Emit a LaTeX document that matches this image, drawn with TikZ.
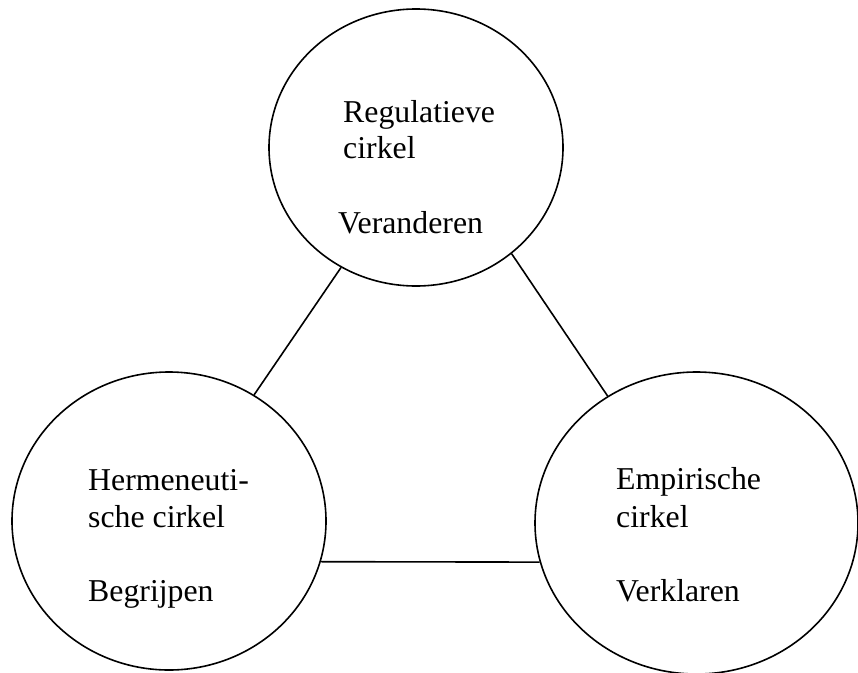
\documentclass[tikz,border=0pt]{standalone}
\usepackage{fontspec}
\setmainfont{Liberation Serif}
\usetikzlibrary{shapes.geometric}
\tikzset{
  cirkel/.style={
    ellipse, draw=black, line width=1.6pt, inner sep=0pt
  },
  tekst/.style={
    anchor=base west, inner sep=0pt
  },
  verbinding/.style={
    line width=1.6pt, color=black
  }
}

\begin{document}
\begin{tikzpicture}[x=1pt, y=-1pt, every node/.style={font=\fontsize{31.8}{36.5}\selectfont}]
    \useasboundingbox (0,0) rectangle (858,672);

    % The three circles
    \node[cirkel, minimum width=294pt, minimum height=277pt] (regulatief) at (416,147.5) {};
    \node[cirkel, minimum width=314pt, minimum height=298pt] (hermeneutisch) at (169,521) {};
    \node[cirkel, minimum width=323pt, minimum height=302pt] (empirisch) at (696.5,523) {};

    % Texts
    \node[tekst] (regA) at (343,122) {Regulatieve};
    \node[tekst] (regB) at (343,158) {cirkel};
    \node[tekst] (regC) at (338,233) {Veranderen};

    \node[tekst] (herA) at (88,490) {Hermeneuti-};
    \node[tekst] (herB) at (88,527) {sche cirkel};
    \node[tekst] (herC) at (88,601) {Begrijpen};

    \node[tekst] (empA) at (616,489) {Empirische};
    \node[tekst] (empB) at (616,527) {cirkel};
    \node[tekst] (empC) at (616,601) {Verklaren};

    % Connections
    \draw[verbinding] (regulatief.-122) -- (hermeneutisch.56);
    \draw[verbinding] (regulatief.-48) -- (empirisch.125);
    \draw[verbinding] (hermeneutisch.-15.8) -- (empirisch.-166.6);
\end{tikzpicture}
\end{document}
